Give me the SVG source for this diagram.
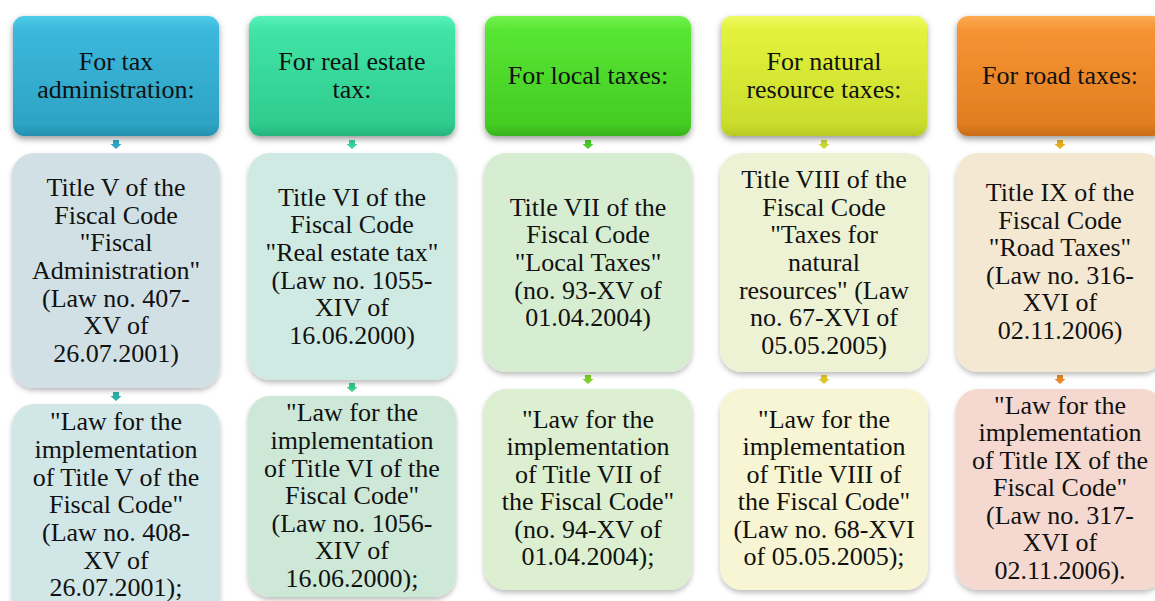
<svg xmlns="http://www.w3.org/2000/svg" width="1155" height="601" viewBox="0 0 1155 601">
<defs>
<filter id="sh" x="-10%" y="-10%" width="125%" height="130%"><feDropShadow dx="0" dy="3" stdDeviation="3" flood-color="#000" flood-opacity="0.4"/></filter>
<filter id="sh2" x="-10%" y="-10%" width="125%" height="130%"><feDropShadow dx="0" dy="3" stdDeviation="2.5" flood-color="#000" flood-opacity="0.25"/></filter>
<linearGradient id="g1" x1="0" y1="0" x2="0" y2="1"><stop offset="0" stop-color="#50cce8"/><stop offset="0.12" stop-color="#3bb8dc"/><stop offset="0.9" stop-color="#2ea3c4"/><stop offset="1" stop-color="#2690b0"/></linearGradient>
<linearGradient id="g2" x1="0" y1="0" x2="0" y2="1"><stop offset="0" stop-color="#58f2bc"/><stop offset="0.12" stop-color="#40e4a6"/><stop offset="0.9" stop-color="#2fcb8e"/><stop offset="1" stop-color="#26b47c"/></linearGradient>
<linearGradient id="g3" x1="0" y1="0" x2="0" y2="1"><stop offset="0" stop-color="#72f24e"/><stop offset="0.12" stop-color="#58e634"/><stop offset="0.9" stop-color="#44cc24"/><stop offset="1" stop-color="#38b41c"/></linearGradient>
<linearGradient id="g4" x1="0" y1="0" x2="0" y2="1"><stop offset="0" stop-color="#f0fa62"/><stop offset="0.12" stop-color="#e2f23c"/><stop offset="0.9" stop-color="#cbdd2c"/><stop offset="1" stop-color="#b8c824"/></linearGradient>
<linearGradient id="g5" x1="0" y1="0" x2="0" y2="1"><stop offset="0" stop-color="#fcaa50"/><stop offset="0.12" stop-color="#f69434"/><stop offset="0.9" stop-color="#e07e20"/><stop offset="1" stop-color="#c86c18"/></linearGradient>
<path id="arr" d="M-3,0 h6 v4 h2.5 l-5.5,5 l-5.5,-5 h2.5 z"/>
</defs>
<style>
text{font-family:"Liberation Serif","Times New Roman",serif;font-size:26px;fill:#111;text-anchor:middle}
.hd{filter:url(#sh)}
.bx{filter:url(#sh2)}
</style>
<rect width="1155" height="601" fill="#fff"/>

<g id="connectors">
<use href="#arr" x="116" y="140" fill="#2ea7c8"/>
<use href="#arr" x="116" y="392" fill="#2ab0a8"/>
<use href="#arr" x="352" y="140" fill="#36d49a"/>
<use href="#arr" x="352" y="383" fill="#36c98a"/>
<use href="#arr" x="588" y="140" fill="#4ccc2a"/>
<use href="#arr" x="588" y="375" fill="#7ed02a"/>
<use href="#arr" x="824" y="140" fill="#c8d830"/>
<use href="#arr" x="824" y="375" fill="#e0c828"/>
<use href="#arr" x="1060" y="140" fill="#e8b020"/>
<use href="#arr" x="1060" y="375" fill="#e88a28"/>
</g>

<g id="h1"><rect class="hd" x="13" y="16" width="206" height="120" rx="11" fill="url(#g1)"/><text x="116" y="70">For tax</text><text x="116" y="98">administration:</text></g>
<g id="h2"><rect class="hd" x="249" y="16" width="206" height="120" rx="11" fill="url(#g2)"/><text x="352" y="70">For real estate</text><text x="352" y="98">tax:</text></g>
<g id="h3"><rect class="hd" x="485" y="16" width="206" height="120" rx="11" fill="url(#g3)"/><text x="588" y="84">For local taxes:</text></g>
<g id="h4"><rect class="hd" x="721" y="16" width="206" height="120" rx="11" fill="url(#g4)"/><text x="824" y="70">For natural</text><text x="824" y="98">resource taxes:</text></g>
<g id="h5"><rect class="hd" x="957" y="16" width="206" height="120" rx="11" fill="url(#g5)"/><text x="1060" y="84">For road taxes:</text></g>

<g id="b1"><rect class="bx" x="12" y="153" width="208" height="235" rx="22" fill="#d0e0e5"/>
<text x="116"><tspan x="116" y="196">Title V of the</tspan><tspan x="116" y="224">Fiscal Code</tspan><tspan x="116" y="251">"Fiscal</tspan><tspan x="116" y="279">Administration"</tspan><tspan x="116" y="307">(Law no. 407-</tspan><tspan x="116" y="334">XV of</tspan><tspan x="116" y="362">26.07.2001)</tspan></text></g>
<g id="b2"><rect class="bx" x="248" y="153" width="208" height="227" rx="22" fill="#cfe9e3"/>
<text x="352"><tspan x="352" y="206">Title VI of the</tspan><tspan x="352" y="233">Fiscal Code</tspan><tspan x="352" y="261">"Real estate tax"</tspan><tspan x="352" y="289">(Law no. 1055-</tspan><tspan x="352" y="316">XIV of</tspan><tspan x="352" y="344">16.06.2000)</tspan></text></g>
<g id="b3"><rect class="bx" x="484" y="153" width="208" height="219" rx="22" fill="#d6edd1"/>
<text x="588"><tspan x="588" y="216">Title VII of the</tspan><tspan x="588" y="243">Fiscal Code</tspan><tspan x="588" y="271">"Local Taxes"</tspan><tspan x="588" y="299">(no. 93-XV of</tspan><tspan x="588" y="326">01.04.2004)</tspan></text></g>
<g id="b4"><rect class="bx" x="720" y="153" width="208" height="219" rx="22" fill="#edf2d4"/>
<text x="824"><tspan x="824" y="188">Title VIII of the</tspan><tspan x="824" y="216">Fiscal Code</tspan><tspan x="824" y="243">"Taxes for</tspan><tspan x="824" y="271">natural</tspan><tspan x="824" y="299">resources" (Law</tspan><tspan x="824" y="326">no. 67-XVI of</tspan><tspan x="824" y="354">05.05.2005)</tspan></text></g>
<g id="b5"><rect class="bx" x="956" y="153" width="208" height="219" rx="22" fill="#f5e8d3"/>
<text x="1060"><tspan x="1060" y="201">Title IX of the</tspan><tspan x="1060" y="229">Fiscal Code</tspan><tspan x="1060" y="256">"Road Taxes"</tspan><tspan x="1060" y="284">(Law no. 316-</tspan><tspan x="1060" y="311">XVI of</tspan><tspan x="1060" y="339">02.11.2006)</tspan></text></g>

<g id="c1"><rect class="bx" x="12" y="404" width="208" height="215" rx="22" fill="#d1e7e7"/>
<text x="116"><tspan x="116" y="430">"Law for the</tspan><tspan x="116" y="458">implementation</tspan><tspan x="116" y="486">of Title V of the</tspan><tspan x="116" y="513">Fiscal Code"</tspan><tspan x="116" y="541">(Law no. 408-</tspan><tspan x="116" y="569">XV of</tspan><tspan x="116" y="596">26.07.2001);</tspan></text></g>
<g id="c2"><rect class="bx" x="248" y="396" width="208" height="201" rx="22" fill="#cde8d7"/>
<text x="352"><tspan x="352" y="421">"Law for the</tspan><tspan x="352" y="449">implementation</tspan><tspan x="352" y="477">of Title VI of the</tspan><tspan x="352" y="504">Fiscal Code"</tspan><tspan x="352" y="532">(Law no. 1056-</tspan><tspan x="352" y="559">XIV of</tspan><tspan x="352" y="587">16.06.2000);</tspan></text></g>
<g id="c3"><rect class="bx" x="484" y="389" width="208" height="201" rx="22" fill="#dcefd0"/>
<text x="588"><tspan x="588" y="428">"Law for the</tspan><tspan x="588" y="455">implementation</tspan><tspan x="588" y="483">of Title VII of</tspan><tspan x="588" y="510">the Fiscal Code"</tspan><tspan x="588" y="538">(no. 94-XV of</tspan><tspan x="588" y="565">01.04.2004);</tspan></text></g>
<g id="c4"><rect class="bx" x="720" y="389" width="208" height="201" rx="22" fill="#f7f5d3"/>
<text x="824"><tspan x="824" y="428">"Law for the</tspan><tspan x="824" y="455">implementation</tspan><tspan x="824" y="483">of Title VIII of</tspan><tspan x="824" y="510">the Fiscal Code"</tspan><tspan x="824" y="538">(Law no. 68-XVI</tspan><tspan x="824" y="565">of 05.05.2005);</tspan></text></g>
<g id="c5"><rect class="bx" x="956" y="389" width="208" height="201" rx="22" fill="#f5d9d0"/>
<text x="1060"><tspan x="1060" y="414">"Law for the</tspan><tspan x="1060" y="441">implementation</tspan><tspan x="1060" y="469">of Title IX of the</tspan><tspan x="1060" y="496">Fiscal Code"</tspan><tspan x="1060" y="524">(Law no. 317-</tspan><tspan x="1060" y="551">XVI of</tspan><tspan x="1060" y="579">02.11.2006).</tspan></text></g>
</svg>
